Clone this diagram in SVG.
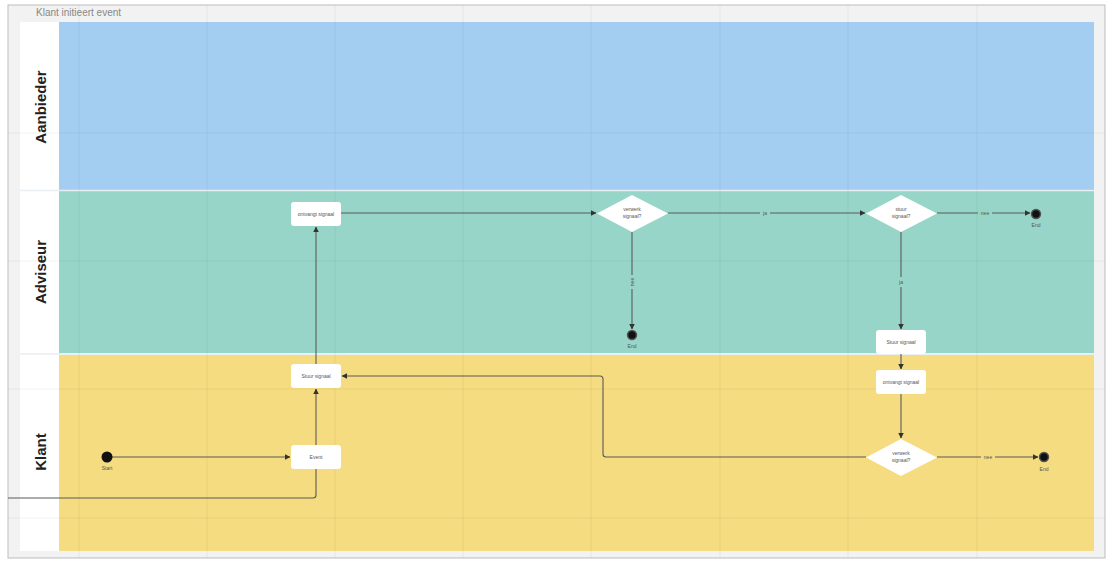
<svg xmlns="http://www.w3.org/2000/svg" width="1110" height="561" viewBox="0 0 1110 561">
<defs>
<marker id="ah" viewBox="0 0 6 6" refX="5.5" refY="3" markerWidth="5" markerHeight="5" orient="auto">
<path d="M0,0 L6,3 L0,6 z" fill="#333"/>
</marker>
<style>
.lane-label{font-family:"Liberation Sans",Arial,sans-serif;font-size:15px;font-weight:bold;fill:#222;text-anchor:middle}
.box{fill:#fff;stroke:none}
.nt{font-family:"Liberation Sans",Arial,sans-serif;font-size:5px;fill:#555;text-anchor:middle}
.cap{font-family:"Liberation Sans",Arial,sans-serif;font-size:5px;fill:#555;text-anchor:middle}
.edge{fill:none;stroke:#5a5a5a;stroke-width:1.1}
.arr{marker-end:url(#ah)}
.grid{stroke:#000;stroke-opacity:0.035;stroke-width:1.5}
.end{fill:#111;stroke:#555;stroke-width:1.5}
.el{font-family:"Liberation Sans",Arial,sans-serif;font-size:5px;fill:#555;text-anchor:middle}
</style>
</defs>
<rect x="0" y="0" width="1110" height="561" fill="#ffffff"/>
<rect x="8" y="5" width="1097" height="553" fill="#f2f2f2" stroke="#bdbdbd" stroke-width="1"/>
<text x="36" y="16" font-family="Liberation Sans,Arial,sans-serif" font-size="10" fill="#888">Klant initieert event</text>

<g id="lane-labels-col">
<rect x="20" y="22" width="39" height="529" fill="#ffffff"/>
</g>
<g id="lane-aanbieder">
<rect x="59" y="22" width="1035" height="168" fill="#a3cdf1"/>
<text class="lane-label" transform="translate(46,107) rotate(-90)">Aanbieder</text>
</g>
<g id="lane-adviseur">
<rect x="59" y="191" width="1035" height="162" fill="#96d5c7"/>
<text class="lane-label" transform="translate(46,272) rotate(-90)">Adviseur</text>
</g>
<g id="lane-klant">
<rect x="59" y="355" width="1035" height="196" fill="#f5dc80"/>
<text class="lane-label" transform="translate(46,452) rotate(-90)">Klant</text>
</g>
<line x1="20" y1="190.5" x2="1094" y2="190.5" stroke="#e8eef2" stroke-width="1.5"/>
<line x1="20" y1="354" x2="1094" y2="354" stroke="#e8eef2" stroke-width="1.5"/>

<g id="grid">
<line class="grid" x1="79" y1="5" x2="79" y2="558"/>
<line class="grid" x1="207" y1="5" x2="207" y2="558"/>
<line class="grid" x1="335" y1="5" x2="335" y2="558"/>
<line class="grid" x1="463" y1="5" x2="463" y2="558"/>
<line class="grid" x1="591" y1="5" x2="591" y2="558"/>
<line class="grid" x1="720" y1="5" x2="720" y2="558"/>
<line class="grid" x1="848" y1="5" x2="848" y2="558"/>
<line class="grid" x1="977" y1="5" x2="977" y2="558"/>
<line class="grid" x1="8" y1="133" x2="1105" y2="133"/>
<line class="grid" x1="8" y1="261" x2="1105" y2="261"/>
<line class="grid" x1="8" y1="389" x2="1105" y2="389"/>
<line class="grid" x1="8" y1="518" x2="1105" y2="518"/>
</g>

<g id="connectors">
<path class="edge arr" d="M112,457 L290,457"/>
<path class="edge arr" d="M316,445 L316,389"/>
<path class="edge arr" d="M316,364 L316,227"/>
<path class="edge" d="M8,498 L313,498 Q316,498 316,495 L316,469"/>
<path class="edge arr" d="M341,213 L596,213"/>
<path class="edge arr" d="M668,213 L865,213"/>
<path class="edge arr" d="M632,232 L632,329"/>
<path class="edge arr" d="M937,213 L1030,213"/>
<path class="edge arr" d="M901,232 L901,329"/>
<path class="edge arr" d="M901,354 L901,369"/>
<path class="edge arr" d="M901,394 L901,438"/>
<path class="edge arr" d="M937,457 L1038,457"/>
<path class="edge arr" d="M866,457 L606,457 Q603,457 603,454 L603,379 Q603,376 600,376 L342,376"/>
<rect x="760" y="210" width="10" height="6" fill="#96d5c7"/>
<text class="el" x="765" y="215">ja</text>
<rect x="978" y="210" width="14" height="6" fill="#96d5c7"/>
<text class="el" x="985" y="215">nee</text>
<rect x="629" y="275" width="6" height="14" fill="#96d5c7"/>
<text class="el" transform="translate(634,282) rotate(-90)">nee</text>
<rect x="897" y="277" width="8" height="10" fill="#96d5c7"/>
<text class="el" x="901" y="284">ja</text>
<rect x="981" y="454" width="14" height="6" fill="#f5dc80"/>
<text class="el" x="988" y="459">nee</text>
</g>

<g id="start">
<circle cx="107" cy="457" r="5.5" fill="#111"/>
<text class="cap" x="107" y="470">Start</text>
</g>
<g id="event">
<rect class="box" x="291" y="445" width="50" height="24" rx="3"/>
<text class="nt" x="316" y="459">Event</text>
</g>
<g id="stuur-signaal-klant">
<rect class="box" x="291" y="364" width="50" height="24" rx="3"/>
<text class="nt" x="316" y="378">Stuur signaal</text>
</g>
<g id="ontvangt-signaal-adviseur">
<rect class="box" x="291" y="202" width="50" height="24" rx="3"/>
<text class="nt" x="316" y="216">ontvangt signaal</text>
</g>
<g id="verwerk-signaal-adviseur">
<polygon class="box" points="632,195 668,213.5 632,232 597,213.5"/>
<text class="nt" x="632" y="211">verwerk</text>
<text class="nt" x="632" y="218">signaal?</text>
</g>
<g id="end-mid">
<circle class="end" cx="632" cy="335" r="4.5"/>
<text class="cap" x="632" y="348">End</text>
</g>
<g id="stuur-signaal-q">
<polygon class="box" points="901,195 937,213.5 901,232 866,213.5"/>
<text class="nt" x="901" y="211">stuur</text>
<text class="nt" x="901" y="218">signaal?</text>
</g>
<g id="end-top">
<circle class="end" cx="1036" cy="214" r="4.5"/>
<text class="cap" x="1036" y="227">End</text>
</g>
<g id="stuur-signaal-adviseur">
<rect class="box" x="876" y="330" width="50" height="24" rx="3"/>
<text class="nt" x="901" y="344">Stuur signaal</text>
</g>
<g id="ontvangt-signaal-klant">
<rect class="box" x="876" y="370" width="50" height="24" rx="3"/>
<text class="nt" x="901" y="384">ontvangt signaal</text>
</g>
<g id="verwerk-signaal-klant">
<polygon class="box" points="901,439 937,457.5 901,476 866,457.5"/>
<text class="nt" x="901" y="455">verwerk</text>
<text class="nt" x="901" y="462">signaal?</text>
</g>
<g id="end-bottom">
<circle class="end" cx="1044" cy="457" r="4.5"/>
<text class="cap" x="1044" y="471">End</text>
</g>
</svg>
